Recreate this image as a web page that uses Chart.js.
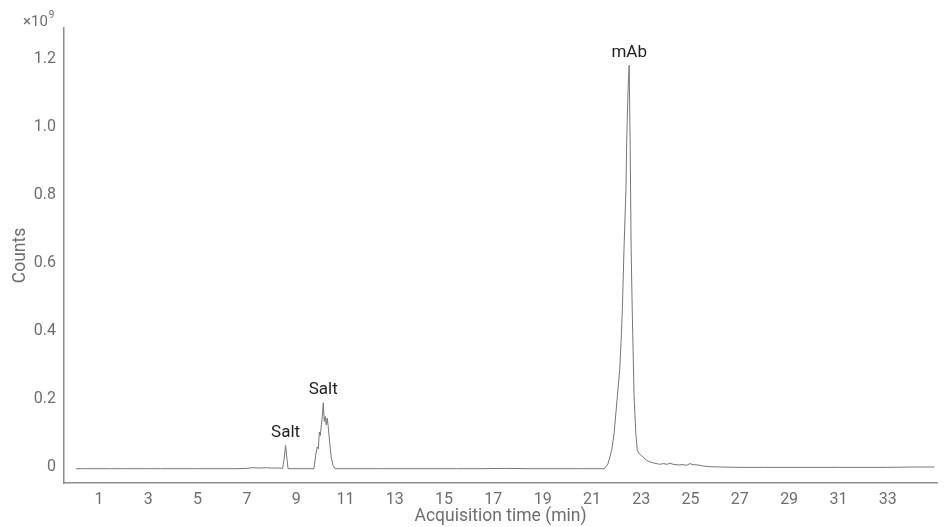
<!DOCTYPE html>
<html>
<head>
<meta charset="utf-8">
<script src="https://cdn.jsdelivr.net/npm/chart.js@4.4.1/dist/chart.umd.min.js"></script>
<style>
  html, body { margin: 0; padding: 0; background: #fff; }
  #wrap { width: 945px; height: 527px; position: relative; }
</style>
</head>
<body>
<div id="wrap"><canvas id="chrom"></canvas></div>
<script>
// acquisition time (min) and counts (x10^9)
const times = [
  0.07, 0.5, 1.0, 1.5, 2.0, 2.5, 3.0, 3.5, 4.0, 4.5, 5.0, 5.5, 6.0, 6.5, 7.0, 7.2, 7.5, 7.8, 8.0, 8.3,
  8.45, 8.52, 8.57, 8.62, 8.67, 9.0, 9.4, 9.72, 9.8, 9.86, 9.9, 9.94, 9.98, 10.02, 10.06, 10.1, 10.14,
  10.18, 10.22, 10.26, 10.3, 10.35, 10.42, 10.5, 10.58, 11.5, 12.5, 13.5, 14.5, 15.5, 16.5, 17.5, 18.5,
  19.5, 20.5, 21.2, 21.5, 21.65, 21.8, 21.9, 22.02, 22.13, 22.2, 22.24, 22.3, 22.38, 22.41, 22.43, 22.47,
  22.51, 22.55, 22.59, 22.63, 22.71, 22.78, 22.84, 22.92, 23.01, 23.2, 23.35, 23.55, 23.75, 23.9, 24.05,
  24.16, 24.3, 24.5, 24.7, 24.85, 24.97, 25.1, 25.3, 25.5, 25.8, 26.2, 27, 28, 29, 30, 31, 32, 33, 34, 34.9
];
const counts = [
  -0.004, -0.004, -0.004, -0.004, -0.004, -0.004, -0.004, -0.004, -0.004, -0.004, -0.004, -0.004, -0.004, -0.004, -0.003, -0.001, -0.002, -0.001, -0.002, -0.002,
  -0.003, 0.03, 0.065, 0.03, -0.004, -0.004, -0.004, -0.004, 0.04, 0.06, 0.055, 0.104, 0.094, 0.124, 0.15, 0.19, 0.135,
  0.15, 0.125, 0.145, 0.12, 0.08, 0.03, 0.005, -0.004, -0.004, -0.004, -0.004, -0.004, -0.004, -0.004, -0.003, -0.004,
  -0.004, -0.004, -0.004, -0.004, 0.01, 0.05, 0.1, 0.2, 0.29, 0.4, 0.48, 0.64, 0.82, 0.956, 1.015, 1.12,
  1.182, 0.95, 0.644, 0.48, 0.207, 0.1, 0.05, 0.04, 0.035, 0.022, 0.016, 0.012, 0.009, 0.011, 0.009,
  0.012, 0.009, 0.007, 0.008, 0.006, 0.011, 0.008, 0.007, 0.004, 0.002, 0.001, 0.0, 0.0, 0.0, 0.0, 0.0, 0.0, 0.0, 0.001, 0.001
];
const xTicks = [1, 3, 5, 7, 9, 11, 13, 15, 17, 19, 21, 23, 25, 27, 29, 31, 33];
const yTicks = [0, 0.2, 0.4, 0.6, 0.8, 1.0, 1.2];
const yTickLabels = ['0', '0.2', '0.4', '0.6', '0.8', '1.0', '1.2'];
const peakNames = ['Salt', 'Salt', 'mAb'];
const peakTimes = [8.57, 10.1, 22.51];
const peakTops = [0.065, 0.19, 1.182];

const FONT = 'Roboto, "Noto Sans", sans-serif';
const GREY = '#6e6e6e';
const AXIS = '#8c8c8c';

const points = times.map((t, i) => ({ x: t, y: counts[i] }));

// peak labels + exponent note
const extras = {
  id: 'extras',
  afterDatasetsDraw(chart) {
    const { ctx, scales } = chart;
    ctx.save();
    ctx.font = '17px ' + FONT;
    ctx.fillStyle = '#222';
    ctx.textAlign = 'center';
    ctx.textBaseline = 'bottom';
    peakNames.forEach((n, i) => {
      const px = scales.x.getPixelForValue(peakTimes[i]);
      const py = scales.y.getPixelForValue(peakTops[i]);
      ctx.fillText(n, px, py - 4);
    });
    ctx.fillStyle = GREY;
    ctx.textAlign = 'left';
    ctx.textBaseline = 'alphabetic';
    ctx.font = '15px ' + FONT;
    ctx.fillText('×10', 23, 26);
    const w = ctx.measureText('×10').width;
    ctx.font = '10px ' + FONT;
    ctx.fillText('9', 23 + w + 1, 18);
    ctx.restore();
  }
};

new Chart(document.getElementById('chrom'), {
  type: 'line',
  data: {
    datasets: [{
      data: points,
      borderColor: '#767676',
      borderWidth: 1,
      pointRadius: 0,
      tension: 0,
      fill: false
    }]
  },
  options: {
    responsive: true,
    maintainAspectRatio: false,
    animation: false,
    layout: { padding: { top: 28, right: 8, left: 0, bottom: 0 } },
    plugins: { legend: { display: false }, tooltip: { enabled: false } },
    scales: {
      x: {
        type: 'linear',
        min: -0.42,
        max: 35.0,
        afterBuildTicks: s => { s.ticks = xTicks.map(v => ({ value: v })); },
        afterFit: s => { s.height = 44; },
        grid: { display: false, drawTicks: true, tickLength: 5, tickColor: AXIS },
        border: { display: true, color: AXIS, width: 1.5 },
        ticks: { color: GREY, font: { family: FONT, size: 16 }, padding: 2, maxRotation: 0, autoSkip: false },
        title: { display: true, text: 'Acquisition time (min)', color: GREY, font: { family: FONT, size: 17.5 }, padding: { top: -5, bottom: 0 } }
      },
      y: {
        type: 'linear',
        min: -0.046,
        max: 1.292,
        afterBuildTicks: s => { s.ticks = yTicks.map(v => ({ value: v })); },
        afterFit: s => { s.width = 64; },
        grid: { display: false, drawTicks: true, tickLength: 5, tickColor: AXIS },
        border: { display: true, color: AXIS, width: 1.5 },
        ticks: {
          color: GREY, font: { family: FONT, size: 16 }, padding: 3,
          callback: v => { const i = yTicks.indexOf(v); return i >= 0 ? yTickLabels[i] : ''; }
        },
        title: { display: true, text: 'Counts', color: GREY, font: { family: FONT, size: 17.5 }, padding: { top: 10, bottom: 0 } }
      }
    }
  },
  plugins: [extras]
});
</script>
</body>
</html>
